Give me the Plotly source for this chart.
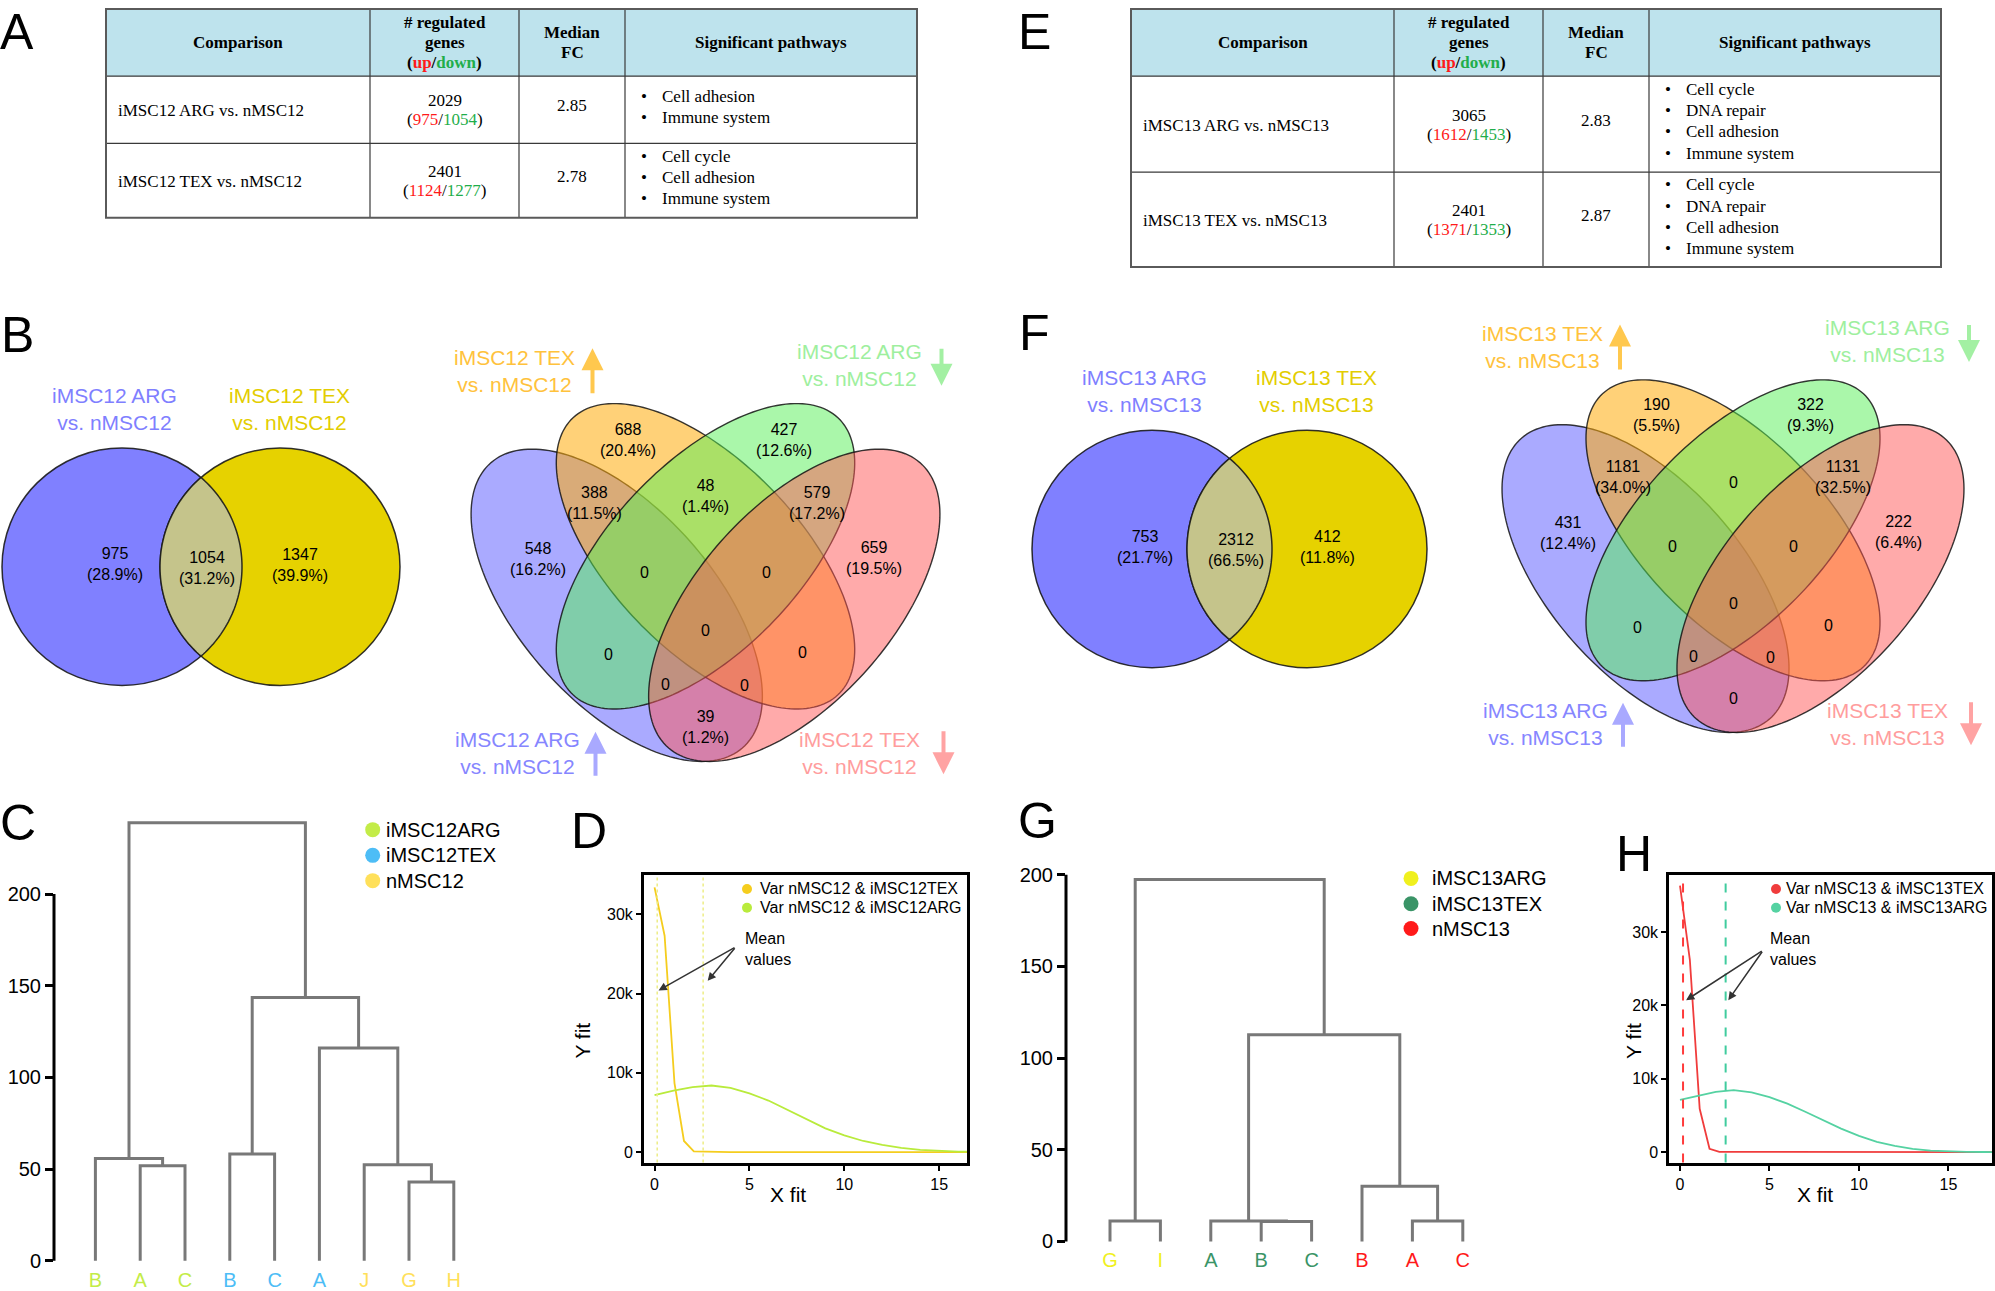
import numpy as np
import plotly.graph_objects as go

W, H = 1995, 1291
SANS = "Liberation Sans, Arial, Helvetica, sans-serif"
SERIF = "Liberation Serif, Times New Roman, serif"

# ============================ DATA ============================
# --- Panels A / E : tables ---
header_lines = [["Comparison"], ["# regulated", "genes", "(up/down)"], ["Median", "FC"], ["Significant pathways"]]

A_comparison = ["iMSC12 ARG vs. nMSC12", "iMSC12 TEX vs. nMSC12"]
A_total = [2029, 2401]
A_up = [975, 1124]
A_down = [1054, 1277]
A_median = ["2.85", "2.78"]
A_pathways = [["Cell adhesion", "Immune system"],
              ["Cell cycle", "Cell adhesion", "Immune system"]]

E_comparison = ["iMSC13 ARG vs. nMSC13", "iMSC13 TEX vs. nMSC13"]
E_total = [3065, 2401]
E_up = [1612, 1371]
E_down = [1453, 1353]
E_median = ["2.83", "2.87"]
E_pathways = [["Cell cycle", "DNA repair", "Cell adhesion", "Immune system"],
              ["Cell cycle", "DNA repair", "Cell adhesion", "Immune system"]]

# --- Panels B / F : two-set Venn (left only, overlap, right only) ---
venn2_B_sets = ["iMSC12 ARG<br>vs. nMSC12", "iMSC12 TEX<br>vs. nMSC12"]
venn2_B_counts = [975, 1054, 1347]
venn2_B_pct = [28.9, 31.2, 39.9]
venn2_F_sets = ["iMSC13 ARG<br>vs. nMSC13", "iMSC13 TEX<br>vs. nMSC13"]
venn2_F_counts = [753, 2312, 412]
venn2_F_pct = [21.7, 66.5, 11.8]

# --- Panels B / F : four-set Venn ---
# set order: ARG up, TEX up, ARG down, TEX down
venn4_B_sets = ["iMSC12 ARG<br>vs. nMSC12", "iMSC12 TEX<br>vs. nMSC12",
                "iMSC12 ARG<br>vs. nMSC12", "iMSC12 TEX<br>vs. nMSC12"]
venn4_F_sets = ["iMSC13 ARG<br>vs. nMSC13", "iMSC13 TEX<br>vs. nMSC13",
                "iMSC13 ARG<br>vs. nMSC13", "iMSC13 TEX<br>vs. nMSC13"]
venn4_dirs = ["up", "up", "down", "down"]
# regions: ARGup, TEXup, ARGdn, TEXdn, ARGup&TEXup, TEXup&ARGdn, ARGdn&TEXdn,
#          ARGup&TEXup&ARGdn, TEXup&ARGdn&TEXdn, all, ARGup&ARGdn, TEXup&TEXdn,
#          ARGup&ARGdn&TEXdn, ARGup&TEXup&TEXdn, ARGup&TEXdn
venn4_B_counts = [548, 688, 427, 659, 388, 48, 579, 0, 0, 0, 0, 0, 0, 0, 39]
venn4_B_pct = [16.2, 20.4, 12.6, 19.5, 11.5, 1.4, 17.2, None, None, None, None, None, None, None, 1.2]
venn4_F_counts = [431, 190, 322, 222, 1181, 0, 1131, 0, 0, 0, 0, 0, 0, 0, 0]
venn4_F_pct = [12.4, 5.5, 9.3, 6.4, 34.0, None, 32.5, None, None, None, None, None, None, None, None]

# --- Panel C : dendrogram ---
dendC_leaves = ["B", "A", "C", "B", "C", "A", "J", "G", "H"]
dendC_groups = ["iMSC12ARG", "iMSC12ARG", "iMSC12ARG", "iMSC12TEX", "iMSC12TEX", "iMSC12TEX",
                "nMSC12", "nMSC12", "nMSC12"]
dendC_legend = ["iMSC12ARG", "iMSC12TEX", "nMSC12"]
# (child a, child b, height); new nodes numbered after the leaves
dendC_merges = [(1, 2, 51.8), (0, 9, 55.8), (3, 4, 58.2), (7, 8, 43.0),
                (6, 12, 52.3), (5, 13, 116.0), (11, 14, 143.6), (10, 15, 239.0)]
dendC_ticks = [0, 50, 100, 150, 200]

# --- Panel G : dendrogram ---
dendG_leaves = ["G", "I", "A", "B", "C", "B", "A", "C"]
dendG_groups = ["iMSC13ARG", "iMSC13ARG", "iMSC13TEX", "iMSC13TEX", "iMSC13TEX",
                "nMSC13", "nMSC13", "nMSC13"]
dendG_legend = ["iMSC13ARG", "iMSC13TEX", "nMSC13"]
dendG_merges = [(0, 1, 11.2), (3, 4, 10.8), (2, 9, 11.1), (6, 7, 11.2),
                (5, 11, 30.1), (10, 12, 112.8), (8, 13, 197.5)]
dendG_ticks = [0, 50, 100, 150, 200]

# --- Panel D : fitted variance distributions ---
D_names = ["Var nMSC12 &amp; iMSC12TEX", "Var nMSC12 &amp; iMSC12ARG"]
D_tex_x = [0.0, 0.53, 1.05, 1.55, 2.07, 4.0, 8.0, 12.0, 16.48]
D_tex_y = [33400, 27300, 8700, 1400, 100, 0, 0, 0, 0]
D_arg_x = [0, 1, 2, 3, 4, 5, 6, 7, 8, 9, 10, 11, 12, 13, 14, 15, 16, 16.48]
D_arg_y = [7200, 7750, 8200, 8400, 8100, 7400, 6500, 5300, 4100, 3000, 2100, 1400,
           900, 520, 280, 140, 70, 50]
D_means = [0.14, 2.56]

# --- Panel H ---
H_names = ["Var nMSC13 &amp; iMSC13TEX", "Var nMSC13 &amp; iMSC13ARG"]
H_tex_x = [0.0, 0.55, 1.1, 1.65, 2.2, 5.0, 10.0, 15.0, 17.45]
H_tex_y = [36300, 26200, 5900, 450, 20, 0, 0, 0, 0]
H_arg_x = [0, 1, 2, 3, 4, 5, 6, 7, 8, 9, 10, 11, 12, 13, 14, 15, 16, 17, 17.45]
H_arg_y = [7100, 7700, 8200, 8450, 8150, 7500, 6600, 5500, 4300, 3200, 2200, 1400,
           850, 450, 200, 80, 30, 10, 0]
H_means = [0.17, 2.55]

curve_ticks_x = [0, 5, 10, 15]
curve_ticks_y = [0, 10000, 20000, 30000]
curve_ticktext_y = ["0", "10k", "20k", "30k"]

# ============================ STYLE / LAYOUT ============================
shapes, annotations = [], []


def T(x, y, text, size, color="black", family=SANS, xa="center", ya="middle",
      align="center", xref="x", yref="y", angle=0):
    annotations.append(dict(x=x, y=y, text=text, showarrow=False, xref=xref, yref=yref,
                            xanchor=xa, yanchor=ya, align=align, textangle=angle,
                            font=dict(size=size, color=color, family=family)))


def seg(x0, y0, x1, y1, color, width, xref="x", yref="y", dash="solid"):
    shapes.append(dict(type="line", x0=x0, y0=y0, x1=x1, y1=y1, xref=xref, yref=yref,
                       line=dict(color=color, width=width, dash=dash), layer="above"))


# ---------- tables ----------
HEADER_FILL = "#bee3ed"
GRID = "#3a3a3a"
RED = "#ff1a1a"
GREEN = "#1fae4b"


def draw_table(cols, rows, comparison, total, up, down, median, pathways):
    shapes.append(dict(type="rect", x0=cols[0], y0=rows[0], x1=cols[-1], y1=rows[1],
                       xref="x", yref="y", fillcolor=HEADER_FILL, line=dict(width=0), layer="above"))
    for x in cols[1:-1]:
        seg(x, rows[0], x, rows[-1], GRID, 1.2)
    for y in rows[1:-1]:
        seg(cols[0], y, cols[-1], y, GRID, 1.2)
    shapes.append(dict(type="rect", x0=cols[0], y0=rows[0], x1=cols[-1], y1=rows[-1],
                       xref="x", yref="y", fillcolor="rgba(0,0,0,0)",
                       line=dict(color="#5a5a5a", width=2), layer="above"))
    hy = (rows[0] + rows[1]) / 2
    for j, lines in enumerate(header_lines):
        cx = (cols[j] + cols[j + 1]) / 2
        n = len(lines)
        for k, s in enumerate(lines):
            if s == "(up/down)":
                s = f"(<span style='color:{RED}'>up</span>/<span style='color:{GREEN}'>down</span>)"
            T(cx, hy + (k - (n - 1) / 2) * 20.5, f"<b>{s}</b>", 17, family=SERIF)
    for i in range(len(comparison)):
        yc = (rows[i + 1] + rows[i + 2]) / 2
        T(cols[0] + 10, yc + 1, comparison[i], 17, family=SERIF, xa="left")
        cx = (cols[1] + cols[2]) / 2
        T(cx, yc - 9, str(total[i]), 17, family=SERIF)
        T(cx, yc + 10, f"(<span style='color:{RED}'>{up[i]}</span>/"
                       f"<span style='color:{GREEN}'>{down[i]}</span>)", 17, family=SERIF)
        T((cols[2] + cols[3]) / 2, yc - 4, median[i], 17, family=SERIF)
        n = len(pathways[i])
        for k, p in enumerate(pathways[i]):
            yy = yc - 3 + (k - (n - 1) / 2) * 21.5
            T(cols[3] + 19, yy, "\u2022", 17, family=SERIF)
            T(cols[3] + 35, yy, p, 17, family=SERIF, xa="left")


draw_table([106, 370, 519, 625, 917], [7, 75, 143, 218],
           A_comparison, A_total, A_up, A_down, A_median, A_pathways)
draw_table([1131, 1394, 1543, 1649, 1941], [7, 75, 172, 268],
           E_comparison, E_total, E_up, E_down, E_median, E_pathways)

# ---------- two-set Venn ----------
V2_BLUE, V2_YELLOW, V2_LENS = "#8080ff", "#e6d200", "#c5c48b"
V2_BLUE_TXT, V2_YELLOW_TXT = "#7f7fff", "#e3cd00"
OUTLINE = "rgba(25,25,25,0.9)"


def draw_venn2(cx1, cx2, cy, r, sets, counts, pct):
    for cx, col in [(cx1, V2_BLUE), (cx2, V2_YELLOW)]:
        shapes.append(dict(type="circle", xref="x", yref="y", x0=cx - r, x1=cx + r,
                           y0=cy - r, y1=cy + r, fillcolor=col,
                           line=dict(color=OUTLINE, width=1.5), layer="above"))
    a = (cx2 - cx1) / 2
    phi = np.arccos(a / r)
    t1 = np.linspace(-phi, phi, 70)
    t2 = np.linspace(np.pi - phi, np.pi + phi, 70)
    xs = np.concatenate([cx1 + r * np.cos(t1), cx2 + r * np.cos(t2)])
    ys = np.concatenate([cy + r * np.sin(t1), cy + r * np.sin(t2)])
    path = "M " + " L ".join(f"{x:.2f},{y:.2f}" for x, y in zip(xs, ys)) + " Z"
    shapes.append(dict(type="path", path=path, xref="x", yref="y", fillcolor=V2_LENS,
                       line=dict(color=OUTLINE, width=1.5), layer="above"))
    T(cx1 - 7.5, cy - 160, sets[0], 21, color=V2_BLUE_TXT)
    T(cx2 + 9, cy - 160, sets[1], 21, color=V2_YELLOW_TXT)
    pos = [(cx1 - 7, cy - 2.5), ((cx1 + cx2) / 2 + 6, cy + 1), (cx2 + 20, cy - 2)]
    for (x, y), c, p in zip(pos, counts, pct):
        T(x, y, f"{c}<br>({p:.1f}%)", 16)


draw_venn2(122, 280, 571, 120, venn2_B_sets, venn2_B_counts, venn2_B_pct)
draw_venn2(1152, 1307, 553, 120, venn2_F_sets, venn2_F_counts, venn2_F_pct)

# ---------- four-set Venn (ellipse layout in a unit square, y up) ----------
# centre x, centre y, semi-major, semi-minor, rotation of major axis (deg, y up)
QUAD_ELLIPSES = [(0.3365, 0.4638, 0.3523, 0.180, 131.05),
                 (0.5000, 0.5550, 0.3550, 0.1742, 133.4),
                 (0.5000, 0.5550, 0.3550, 0.1742, 46.6),
                 (0.6635, 0.4638, 0.3523, 0.180, 48.95)]
QUAD_TOP, QUAD_BOTTOM = 0.8393, 0.173
QUAD_FILLS = ["rgba(85,85,255,0.5)", "rgba(255,172,10,0.55)",
              "rgba(85,240,85,0.5)", "rgba(255,85,85,0.5)"]
QUAD_TXT = ["#8686ff", "#ffc23c", "#9eef9e", "#ff9d9d"]
QUAD_ARROW_COL = ["#a9a9ff", "#ffc84e", "#a3f0a3", "#ffa3a3"]
# set labels: (dx from centre line, reference edge, dy)  -- edge = top of diagram or bottom tip
QUAD_SET_POS = [(-188, "tip", -9), (-191, "top", -33), (154, "top", -39), (154, "tip", -9)]
# arrows: (dx, reference edge, upper y, lower y)
QUAD_ARROWS = [(-110, "tip", -30, 16), (-113, "top", -56, -9),
               (236, "top", -57, -18), (238, "tip", -32, 13)]
QUAD_REGION_POS = [(0.192, 0.550), (0.357, 0.772), (0.645, 0.772), (0.810, 0.552),
                   (0.295, 0.655), (0.5, 0.667), (0.705, 0.655), (0.387, 0.525),
                   (0.613, 0.525), (0.5, 0.416), (0.322, 0.372), (0.678, 0.376),
                   (0.427, 0.317), (0.571, 0.315), (0.5, 0.237)]


def ellipse_path(cx, cy, a, b, ang, n=180):
    t = np.linspace(0, 2 * np.pi, n, endpoint=False)
    ca, sa = np.cos(np.radians(ang)), np.sin(np.radians(ang))
    x = cx + a * np.cos(t) * ca - b * np.sin(t) * sa
    y = cy + a * np.cos(t) * sa + b * np.sin(t) * ca
    return "M " + " L ".join(f"{u:.2f},{v:.2f}" for u, v in zip(x, y)) + " Z"


def draw_venn4(X0, Y0, s, sets, counts, pct, overrides=None):
    def to_px(ux, uy):
        return X0 + (ux - 0.5) * s, Y0 + (QUAD_TOP - uy) * s

    edge = {"top": Y0, "tip": Y0 + (QUAD_TOP - QUAD_BOTTOM) * s}
    for (ux, uy, a, b, rot), fill in zip(QUAD_ELLIPSES, QUAD_FILLS):
        cx, cy = to_px(ux, uy)
        shapes.append(dict(type="path", path=ellipse_path(cx, cy, a * s, b * s, -rot),
                           fillcolor=fill, line=dict(color="rgba(20,20,20,0.85)", width=1.4),
                           xref="x", yref="y", layer="above"))
    for i, (lab, d) in enumerate(zip(sets, venn4_dirs)):
        lx, ref, ly = QUAD_SET_POS[i]
        T(X0 + lx, edge[ref] + ly, lab, 21, color=QUAD_TXT[i])
        axx, aref, ytop, ybot = QUAD_ARROWS[i]
        head, tail = (ytop, ybot) if d == "up" else (ybot, ytop)
        annotations.append(dict(x=X0 + axx, y=edge[aref] + head, ax=X0 + axx, ay=edge[aref] + tail,
                                xref="x", yref="y", axref="x", ayref="y", text="",
                                showarrow=True, arrowhead=2, arrowsize=1.1, arrowwidth=4,
                                arrowcolor=QUAD_ARROW_COL[i], standoff=0))
    pos = list(QUAD_REGION_POS)
    if overrides:
        for k, v in overrides.items():
            pos[k] = v
    for (ux, uy), c, p in zip(pos, counts, pct):
        x, y = to_px(ux, uy)
        label = f"{c}<br>({p:.1f}%)" if p is not None else f"{c}"
        T(x, y, label, 16)


draw_venn4(705.5, 406, 543, venn4_B_sets, venn4_B_counts, venn4_B_pct)
draw_venn4(1733, 382, 535, venn4_F_sets, venn4_F_counts, venn4_F_pct, overrides={5: (0.5, 0.646)})

# ---------- panel letters ----------
for letter, x, y, ya in [("A", 17, 0, "top"), ("E", 1034, 0, "top"), ("B", 17, 337, "middle"),
                         ("F", 1034, 335, "middle"), ("C", 18, 830, "middle"),
                         ("D", 589, 838, "middle"), ("G", 1037, 828, "middle"),
                         ("H", 1634, 861, "middle")]:
    T(x, y, letter, 50, ya=ya)

# ============================ FIGURE ============================
fig = go.Figure()


def px_x(v):
    return v / W


def px_y(v):
    return 1 - v / H


def dendro_xy(n, merges):
    xs = [float(i) for i in range(n)]
    hs = [0.0] * n
    X, Y = [], []
    for a, b, h in merges:
        X += [xs[a], xs[a], xs[b], xs[b], None]
        Y += [hs[a], h, h, hs[b], None]
        xs.append((xs[a] + xs[b]) / 2)
        hs.append(h)
    return X, Y


DEND_COL = {"iMSC12ARG": "#c3ec48", "iMSC12TEX": "#4dbdf6", "nMSC12": "#ffe05a",
            "iMSC13ARG": "#f0f01e", "iMSC13TEX": "#3a9467", "nMSC13": "#ff1a1a"}


def add_dendro(idx, leaves, groups, merges, ticks, axis_px, leaf0_px, leaf_step, right_px,
               zero_py, unit_py, top_val, ticklen_x):
    X, Y = dendro_xy(len(leaves), merges)
    fig.add_trace(go.Scatter(x=X, y=Y, mode="lines", line=dict(color="#787878", width=3),
                             xaxis=f"x{idx}", yaxis=f"y{idx}", hoverinfo="skip", showlegend=False))
    ticktext = [f"<span style='color:{DEND_COL[g]}'>{l}</span>" for l, g in zip(leaves, groups)]
    rng_x = [(axis_px - leaf0_px) / leaf_step, (right_px - leaf0_px) / leaf_step]
    bottom_py = zero_py + 0.5 * unit_py
    top_py = zero_py - top_val * unit_py
    fig.update_layout(**{
        f"xaxis{idx}": dict(domain=[px_x(axis_px), px_x(right_px)], range=rng_x, anchor=f"y{idx}",
                            showgrid=False, zeroline=False, showline=False,
                            tickvals=list(range(len(leaves))), ticktext=ticktext,
                            ticks="outside", ticklen=ticklen_x, tickcolor="rgba(0,0,0,0)",
                            tickfont=dict(size=20, family=SANS)),
        f"yaxis{idx}": dict(domain=[px_y(bottom_py), px_y(top_py)], range=[-0.5, top_val],
                            anchor=f"x{idx}", showgrid=False, zeroline=False, showline=False,
                            tickvals=ticks, ticks="outside", ticklen=8, tickwidth=3,
                            tickcolor="black", tickfont=dict(size=20, family=SANS, color="black")),
    })
    shapes.append(dict(type="line", xref=f"x{idx} domain", yref=f"y{idx}", x0=0, x1=0,
                       y0=ticks[0], y1=ticks[-1], line=dict(color="black", width=3), layer="above"))


add_dendro(2, dendC_leaves, dendC_groups, dendC_merges, dendC_ticks,
           axis_px=54, leaf0_px=95.4, leaf_step=44.8, right_px=490,
           zero_py=1272.5, unit_py=1.853, top_val=245, ticklen_x=0)
add_dendro(4, dendG_leaves, dendG_groups, dendG_merges, dendG_ticks,
           axis_px=1066, leaf0_px=1110, leaf_step=50.4, right_px=1490,
           zero_py=1253, unit_py=1.853, top_val=205, ticklen_x=0)

# dendrogram legends (drawn on the page canvas)
leg_x, leg_y, leg_c = [], [], []
for names, dx, tx, ys in [(dendC_legend, 372.7, 384, [836.7, 862.7, 888.3]),
                          (dendG_legend, 1411, 1430, [886, 911.7, 936.7])]:
    for nm, yy in zip(names, ys):
        leg_x.append(dx)
        leg_y.append(yy)
        leg_c.append(DEND_COL[nm])
        T(tx, yy, nm, 20, xa="left")
fig.add_trace(go.Scatter(x=leg_x, y=leg_y, mode="markers", marker=dict(size=15, color=leg_c),
                         xaxis="x", yaxis="y", hoverinfo="skip", showlegend=False))


# ---------- curve panels D / H ----------
def add_curves(idx, names, cols, series, means, mean_style, dom_x, dom_y, rng_x, rng_y,
               leg_dot_x, leg_txt_x, title_x, title_y, arrow_tail, arrow_heads, mean_txt):
    for (xx, yy), col in zip(series, cols):
        fig.add_trace(go.Scatter(x=xx, y=yy, mode="lines", line=dict(color=col, width=1.8),
                                 xaxis=f"x{idx}", yaxis=f"y{idx}", hoverinfo="skip",
                                 showlegend=False))
    for m, (col, dash, wd) in zip(means, mean_style):
        shapes.append(dict(type="line", xref=f"x{idx}", yref=f"y{idx} domain", x0=m, x1=m,
                           y0=0, y1=1, line=dict(color=col, width=wd, dash=dash), layer="above"))
    ax_common = dict(showline=True, mirror=True, linecolor="black", linewidth=3,
                     ticks="outside", ticklen=5, tickwidth=2, tickcolor="black",
                     showgrid=False, zeroline=False,
                     tickfont=dict(size=16, family=SANS, color="black"))
    fig.update_layout(**{
        f"xaxis{idx}": dict(domain=dom_x, range=rng_x, anchor=f"y{idx}", tickvals=curve_ticks_x,
                            **ax_common),
        f"yaxis{idx}": dict(domain=dom_y, range=rng_y, anchor=f"x{idx}", tickvals=curve_ticks_y,
                            ticktext=curve_ticktext_y, **ax_common),
    })
    fig.add_trace(go.Scatter(x=[leg_dot_x, leg_dot_x], y=[896.7, 915.7], mode="markers",
                             marker=dict(size=10, color=cols), xaxis="x", yaxis="y",
                             hoverinfo="skip", showlegend=False))
    for nm, yy in zip(names, [896.7, 915.7]):
        T(leg_txt_x, yy, nm, 16, xa="left")
    T(title_x, 1205.7, "X fit", 21)
    T(title_y, 1050, "Y fit", 21, angle=-90)
    T(mean_txt[0], mean_txt[1], "Mean<br>values", 16, xa="left", align="left")
    for hx, hy in arrow_heads:
        annotations.append(dict(x=hx, y=hy, ax=arrow_tail[0], ay=arrow_tail[1],
                                xref=f"x{idx}", yref=f"y{idx}", axref=f"x{idx}", ayref=f"y{idx}",
                                text="", showarrow=True, arrowhead=2, arrowsize=1.1,
                                arrowwidth=1.5, arrowcolor="#333333", standoff=0))


add_curves(3, D_names, ["#f5cd1e", "#b9eb3c"],
           [(D_tex_x, D_tex_y), (D_arg_x, D_arg_y)], D_means,
           [("#eded86", "dot", 1.5), ("#eded86", "dot", 1.5)],
           [px_x(644), px_x(967.3)], [px_y(1173.3), px_y(882.3)], [-0.556, 16.48], [-1323, 34990],
           747, 758, 788, 583, (4.29, 25900), [(0.21, 20400), (2.8, 21600)], (742.7, 957.5))
add_curves(5, H_names, ["#f03c3c", "#55d2a2"],
           [(H_tex_x, H_tex_y), (H_arg_x, H_arg_y)], H_means,
           [("#ff3b3b", "dash", 2), ("#40cc9e", "dash", 2)],
           [px_x(1669.3), px_x(1992.3)], [px_y(1173.3), px_y(882.3)], [-0.598, 17.45], [-1430, 37790],
           1776, 1784, 1815, 1633.3, (4.65, 27500), [(0.34, 20700), (2.7, 20700)], (1768.3, 957.5))

fig.update_layout(
    width=W, height=H, margin=dict(l=0, r=0, t=0, b=0),
    paper_bgcolor="white", plot_bgcolor="rgba(0,0,0,0)", showlegend=False,
    xaxis=dict(domain=[0, 1], range=[0, W], visible=False, fixedrange=True),
    yaxis=dict(domain=[0, 1], range=[H, 0], visible=False, fixedrange=True),
    shapes=shapes, annotations=annotations,
    font=dict(family=SANS),
)

fig.write_html("out.html", config={"displayModeBar": False},
               post_script="document.body.style.margin='0';")
